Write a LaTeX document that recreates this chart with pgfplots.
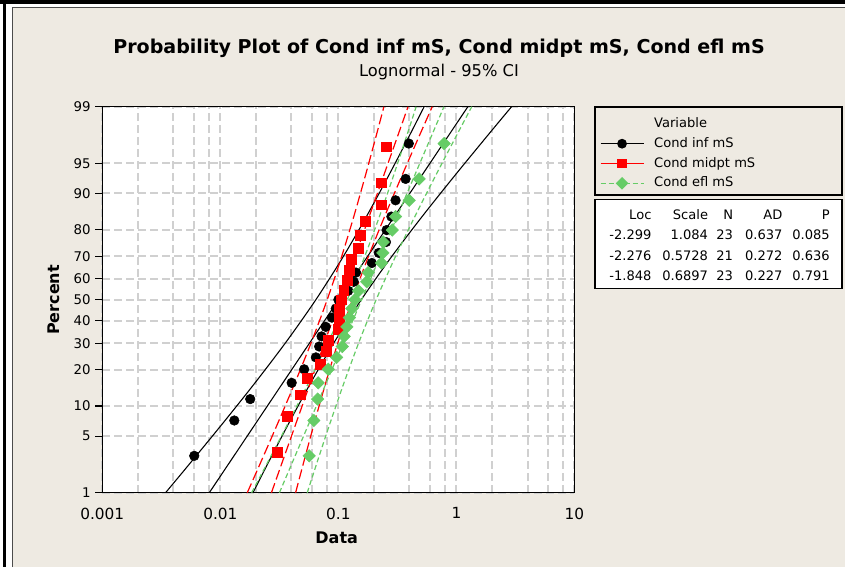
\documentclass[border=0pt]{standalone}
\usepackage{fontspec}
\setmainfont{DejaVu Sans}
\usepackage{pgfplots}
\pgfplotsset{compat=1.18}

\definecolor{panel}{RGB}{238,234,226}
\definecolor{gridgray}{RGB}{208,208,208}
\definecolor{effgreen}{RGB}{102,204,102}

% y values are normal quantiles (probits) of the median-rank plotting positions
\pgfplotstableread{
x z
0.00601 -1.882
0.01313 -1.456
0.01791 -1.198
0.0402 -1.002
0.0513 -0.839
0.0645 -0.695
0.0687 -0.564
0.072 -0.442
0.078 -0.327
0.088 -0.216
0.095 -0.107
0.100 0
0.121 0.107
0.135 0.216
0.141 0.327
0.192 0.442
0.22 0.564
0.253 0.695
0.256 0.839
0.281 1.002
0.305 1.198
0.371 1.456
0.395 1.882
}\condinf

\pgfplotstableread{
x z
0.0305 -1.843
0.0366 -1.409
0.0479 -1.145
0.0548 -0.943
0.0707 -0.774
0.0794 -0.624
0.082 -0.487
0.100 -0.359
0.1015 -0.236
0.102 -0.117
0.106 0
0.111 0.117
0.118 0.236
0.124 0.359
0.129 0.487
0.148 0.624
0.152 0.774
0.168 0.943
0.229 1.145
0.229 1.409
0.256 1.843
}\condmid

\pgfplotstableread{
x z
0.0566 -1.882
0.062 -1.456
0.0667 -1.198
0.0675 -1.002
0.082 -0.839
0.0966 -0.695
0.108 -0.564
0.112 -0.442
0.118 -0.327
0.124 -0.216
0.130 -0.107
0.138 0
0.148 0.107
0.174 0.216
0.179 0.327
0.232 0.442
0.238 0.564
0.240 0.695
0.286 0.839
0.305 1.002
0.398 1.198
0.483 1.456
0.787 1.882
}\condefl

% 95% confidence bands of the fitted lognormal percentiles: z, lower, upper
\pgfplotstableread{
z lo hi
-2.326 0.0034372 0.018918
-2 0.0053303 0.024732
-1.5 0.010349 0.037659
-1 0.019730 0.058402
-0.5 0.036484 0.093376
0 0.064441 0.15630
0.5 0.10786 0.27608
1 0.17246 0.51048
1.5 0.26746 0.97317
2 0.40725 1.88954
2.326 0.53240 2.93034
}\bandinf

\pgfplotstableread{
z lo hi
-2.326 0.016909 0.043423
-2 0.021366 0.049923
-1.5 0.030430 0.062158
-1 0.042901 0.078179
-0.5 0.059472 0.100004
0 0.080380 0.131203
0.5 0.105457 0.177330
1 0.134896 0.245822
1.5 0.169664 0.346572
2 0.211246 0.493581
2.326 0.242868 0.623690
}\bandmid

\pgfplotstableread{
z lo hi
-2.326 0.018411 0.054493
-2 0.024341 0.064623
-1.5 0.037127 0.084446
-1 0.055971 0.111641
-0.5 0.082759 0.150487
0 0.118853 0.208852
0.5 0.164949 0.299938
1 0.222344 0.443496
1.5 0.293948 0.668611
2 0.384114 1.019814
2.326 0.455517 1.348239
}\bandefl

\begin{document}
\begin{tikzpicture}
\useasboundingbox (0,0) rectangle (633.75pt,-425.25pt);
\fill[white] (0,0) rectangle (633.75pt,-425.25pt);
% graph window: beige panel inside a black frame
\fill[panel] (9pt,-5.25pt) rectangle (633.75pt,-425.25pt);
\draw[black!70, line width=0.6pt] (9pt,-425.25pt) -- (9pt,-5.25pt) -- (633.75pt,-5.25pt);
\fill[black] (0,0) rectangle (633.75pt,-3pt);
\fill[black] (2.25pt,0) rectangle (4.25pt,-425.25pt);

\node[font=\bfseries\fontsize{14.3}{17}\selectfont] at (329.25pt,-36pt) {Probability Plot of Cond inf mS, Cond midpt mS, Cond efl mS};
\node[font=\fontsize{12.2}{14}\selectfont] at (329.25pt,-54pt) {Lognormal - 95\% CI};

\begin{axis}[
  at={(76.725pt,-80.025pt)}, anchor=north west,
  scale only axis, width=354.15pt, height=289.5pt,
  xmode=log, xmin=0.001, xmax=10,
  ymin=-2.3263, ymax=2.3263,
  % grid positions at 1, 2, 4, 6, 8 in every decade; labels on the decades only
  xtick={0.001,0.002,0.004,0.006,0.008,0.01,0.02,0.04,0.06,0.08,0.1,0.2,0.4,0.6,0.8,1,2,4,6,8,10},
  xticklabels={0.001,,,,,0.01,,,,,0.1,,,,,1,,,,,10},
  xtick style={draw=none},
  extra x ticks={0.001,0.01,0.1,1,10},
  extra x tick labels={},
  extra x tick style={grid=none, tick style={draw=black, line width=0.9pt}},
  ytick={-2.3263,-1.6449,-1.2816,-0.8416,-0.5244,-0.2533,0,0.2533,0.5244,0.8416,1.2816,1.6449,2.3263},
  yticklabels={1,5,10,20,30,40,50,60,70,80,90,95,99},
  ytick style={black, line width=0.9pt},
  xmajorgrids, ymajorgrids,
  grid style={gridgray, line width=1.5pt, dash pattern=on 6pt off 3pt},
  tick align=outside, xtick pos=bottom, ytick pos=left,
  major tick length=5.25pt,
  axis line style={line width=1.1pt},
  axis background/.style={fill=white},
  xticklabel style={font=\fontsize{11.5}{13}\selectfont, yshift=-2.5pt},
  yticklabel style={font=\fontsize{10}{12}\selectfont},
  xlabel={Data}, ylabel={Percent},
  xlabel style={at={(axis description cs:0.4964,-0.1174)}, anchor=center, font=\bfseries\fontsize{12}{14}\selectfont},
  ylabel style={at={(axis description cs:-0.1023,0.4992)}, anchor=center, font=\bfseries\fontsize{12}{14}\selectfont},
  legend style={draw=none, fill=none, at={(axis description cs:1.054,0.9715)}, anchor=north west,
    inner sep=0pt, outer sep=0pt, row sep=5.55pt, font=\fontsize{9.8}{12}\selectfont,
    nodes={inner sep=0pt, text height=7.3pt, text depth=2pt},
    /tikz/every odd column/.append style={column sep=7.5pt}},
  legend cell align=left,
  legend image code/.code={\draw[mark repeat=2,mark phase=2,#1] plot coordinates {(0pt,0pt) (16.1pt,0pt) (32.25pt,0pt)};},
]
\addlegendimage{empty legend}\addlegendentry{Variable}
\addlegendimage{black, line width=0.9pt, mark=*, mark size=3.2pt}\addlegendentry{Cond inf mS}
\addlegendimage{red, line width=0.9pt, mark=square*, mark size=3.2pt}\addlegendentry{Cond midpt mS}
\addlegendimage{effgreen, line width=0.9pt, dash pattern=on 3.75pt off 2.25pt, mark=square*, mark size=2.9pt, mark options={solid, rotate=45}}\addlegendentry{Cond efl mS}

% Cond inf mS: fitted line and band
\addplot[forget plot, black, line width=0.8pt] coordinates {(0.0080638,-2.326) (1.24904,2.326)};
\addplot[forget plot, black, line width=0.8pt, smooth] table[x=lo, y=z] {\bandinf};
\addplot[forget plot, black, line width=0.8pt, smooth] table[x=hi, y=z] {\bandinf};
% Cond midpt mS
\addplot[forget plot, red, line width=0.9pt, dash pattern=on 7.5pt off 3pt] coordinates {(0.027097,-2.326) (0.389197,2.326)};
\addplot[forget plot, red, line width=0.9pt, dash pattern=on 7.5pt off 3pt, smooth] table[x=lo, y=z] {\bandmid};
\addplot[forget plot, red, line width=0.9pt, dash pattern=on 7.5pt off 3pt, smooth] table[x=hi, y=z] {\bandmid};
% Cond efl mS
\addplot[forget plot, effgreen, line width=0.9pt, dash pattern=on 3.75pt off 2.25pt] coordinates {(0.031675,-2.326) (0.783676,2.326)};
\addplot[forget plot, effgreen, line width=0.9pt, dash pattern=on 3.75pt off 2.25pt, smooth] table[x=lo, y=z] {\bandefl};
\addplot[forget plot, effgreen, line width=0.9pt, dash pattern=on 3.75pt off 2.25pt, smooth] table[x=hi, y=z] {\bandefl};

% observations
\addplot[forget plot, only marks, mark=*, mark size=3.6pt, black] table[x=x, y=z] {\condinf};
\addplot[forget plot, only marks, mark=square*, mark size=3.7pt, red] table[x=x, y=z] {\condmid};
\addplot[forget plot, only marks, mark=square*, mark size=3.3pt, effgreen, mark options={rotate=45}] table[x=x, y=z] {\condefl};
\end{axis}

% legend frame and goodness-of-fit table
\draw[line width=1.1pt, fill=white] (446.25pt,-149.5pt) rectangle (631.5pt,-216.25pt);
\draw[line width=1.1pt] (446.25pt,-80.25pt) rectangle (631.5pt,-146.25pt);
\begin{scope}[every node/.style={anchor=east, inner sep=0pt, text height=7.2pt, text depth=0pt, font=\fontsize{9.8}{12}\selectfont}]
\node at (488.775pt,-160.725pt) {Loc};
\node at (531.225pt,-160.725pt) {Scale};
\node at (549.975pt,-160.725pt) {N};
\node at (587.025pt,-160.725pt) {AD};
\node at (622.5pt,-160.725pt) {P};
\node at (488.775pt,-176.25pt) {-2.299};
\node at (531.225pt,-176.25pt) {1.084};
\node at (549.975pt,-176.25pt) {23};
\node at (587.025pt,-176.25pt) {0.637};
\node at (622.5pt,-176.25pt) {0.085};
\node at (488.775pt,-191.775pt) {-2.276};
\node at (531.225pt,-191.775pt) {0.5728};
\node at (549.975pt,-191.775pt) {21};
\node at (587.025pt,-191.775pt) {0.272};
\node at (622.5pt,-191.775pt) {0.636};
\node at (488.775pt,-206.775pt) {-1.848};
\node at (531.225pt,-206.775pt) {0.6897};
\node at (549.975pt,-206.775pt) {23};
\node at (587.025pt,-206.775pt) {0.227};
\node at (622.5pt,-206.775pt) {0.791};
\end{scope}
\end{tikzpicture}
\end{document}
